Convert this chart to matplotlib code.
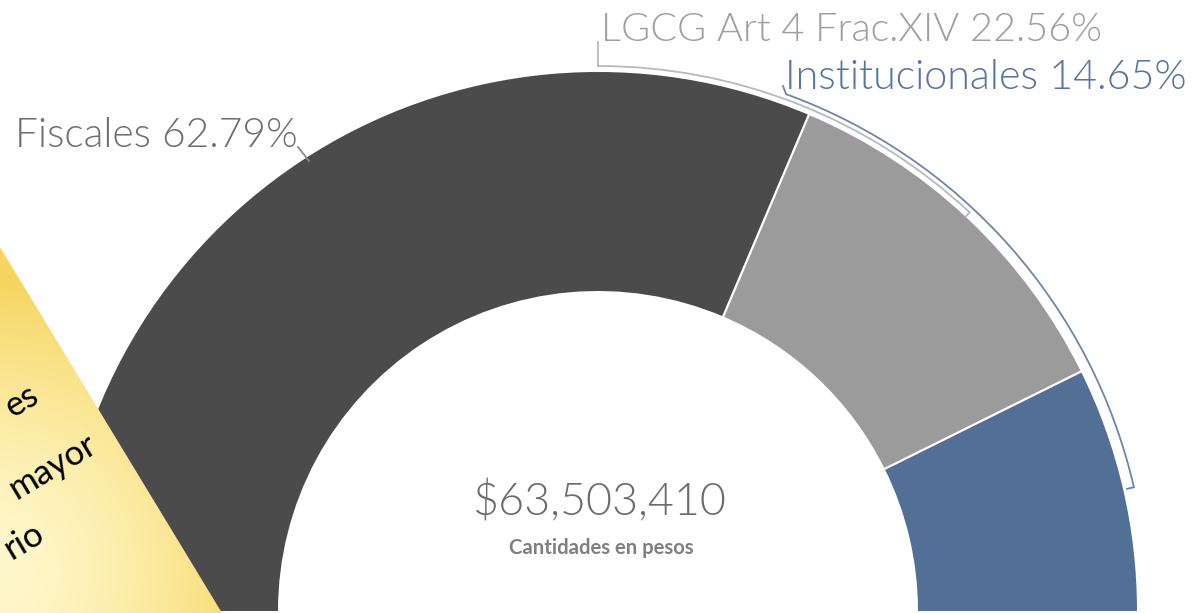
import os
import numpy as np
import matplotlib
matplotlib.use("Agg")
import matplotlib.pyplot as plt
from matplotlib.patches import Wedge, Arc, Polygon
from matplotlib import font_manager as fm

# ---- data ----
categories = ["Fiscales", "LGCG Art 4 Frac.XIV", "Institucionales"]
shares = [62.79, 22.56, 14.65]
seg_colors = ["#4b4b4b", "#9b9b9b", "#526f96"]
label_colors = ["#6f6f6f", "#9e9e9e", "#5574a0"]
total_label = "$63,503,410"
subtitle = "Cantidades en pesos"
note_lines = ["es", "mayor", "rio"]

W, H = 1194, 613
fig = plt.figure(figsize=(W / 100, H / 100), dpi=100)
ax = fig.add_axes([0, 0, 1, 1])
ax.set_xlim(0, W)
ax.set_ylim(0, H)
ax.axis("off")


def Y(yp):
    return H - yp


FONT = ["Lato", "DejaVu Sans"]


def find_light():
    prefs = ["lato-light.ttf", "roboto-light.ttf", "opensans-light.ttf",
             "notosans-light.ttf", "inter-light.ttf"]
    files = {}
    for f in fm.fontManager.ttflist:
        files[os.path.basename(f.fname).lower()] = f.fname
    for p in prefs:
        if p in files:
            return fm.FontProperties(fname=files[p])
    return fm.FontProperties(family=FONT, weight="normal")


LIGHT = find_light()

cx, cy = 598, Y(611)
R, r = 539, 320

# ---- semi-donut ----
start = 180.0
bounds = []
for cat, s, col in zip(categories, shares, seg_colors):
    th1 = start - s / 100.0 * 180.0
    ax.add_patch(Wedge((cx, cy), R, th1, start, width=R - r,
                       facecolor=col, edgecolor="none", zorder=2))
    bounds.append(th1)
    start = th1
for th in bounds[:-1]:
    t = np.deg2rad(th)
    ax.plot([cx + (r - 1) * np.cos(t), cx + (R + 1) * np.cos(t)],
            [cy + (r - 1) * np.sin(t), cy + (R + 1) * np.sin(t)],
            color="white", lw=1.6, zorder=3, solid_capstyle="butt")


def pt(rad, ang):
    a = np.deg2rad(ang)
    return cx + rad * np.cos(a), cy + rad * np.sin(a)


# ---- leader brackets ----
rb1 = 545
ax.add_patch(Arc((cx, cy), 2 * rb1, 2 * rb1, theta1=47, theta2=90,
                 color="#b9b9b9", lw=1.3, zorder=4))
x0, y0 = pt(rb1, 90)
ax.plot([x0, x0], [y0, Y(42)], color="#b9b9b9", lw=1.3, zorder=4)
xa, ya = pt(rb1, 47)
xb, yb = pt(rb1 - 6, 47)
ax.plot([xa, xb], [ya, yb], color="#b9b9b9", lw=1.3, zorder=4)

rb2 = 550
ax.add_patch(Arc((cx, cy), 2 * rb2, 2 * rb2, theta1=13, theta2=70,
                 color="#6a87ad", lw=1.3, zorder=4))
xs, ys = pt(rb2, 70)
ax.plot([xs, 783], [ys, Y(86)], color="#6a87ad", lw=1.3, zorder=4)
xa, ya = pt(rb2, 13)
xb, yb = pt(rb2 - 7, 13)
ax.plot([xa, xb], [ya, yb], color="#6a87ad", lw=1.3, zorder=4)

ax.plot([298, 309], [Y(147), Y(161)], color="#8a8a8a", lw=1.3, zorder=4)

# ---- text helpers ----
fig.canvas.draw()
renderer = fig.canvas.get_renderer()


def fit_text(txt, x, y, target_w, fs0=20, **kw):
    t = ax.text(x, y, txt, fontsize=fs0, **kw)
    bb = t.get_window_extent(renderer)
    t.set_fontsize(fs0 * target_w / bb.width)
    return t


labels = [f"{c} {s:.2f}%" for c, s in zip(categories, shares)]
lab_pos = [(15, 147, 283), (601, 41, 502), (785, 89, 403)]
for lab, (lx, ly, lw_), col in zip(labels, lab_pos, label_colors):
    fit_text(lab, lx, Y(ly), lw_, fontproperties=LIGHT.copy(), color=col,
             ha="left", va="baseline", zorder=5)

fit_text(total_label, 600, Y(515), 255, fontproperties=LIGHT.copy(),
         color="#6c6c6c", ha="center", va="baseline", zorder=5)
fit_text(subtitle, 601, Y(554), 185, family=FONT, weight="bold",
         color="#7f7f7f", ha="center", va="baseline", zorder=5)

# ---- yellow sticky note (rotated) ----
d = np.array([222.0, 366.0])
d /= np.linalg.norm(d)
b = np.array([d[1], -d[0]])
p0 = np.array([0.0, 247.0])
ptop = p0 - 200 * d
pbot = p0 + 700 * d
corners_pix = [ptop, pbot, pbot - 500 * b, ptop - 500 * b]
poly = Polygon([(p[0], Y(p[1])) for p in corners_pix], closed=True,
               facecolor="none", edgecolor="none", zorder=6)
ax.add_patch(poly)

gx = np.linspace(0, 360, 361)
gy = np.linspace(0, 613, 614)
GX, GY = np.meshgrid(gx, gy)
dist = np.hypot(GX - (-10), GY - 570)
tt = np.clip(dist / 290.0, 0, 1) ** 1.5
pale = np.array([255, 248, 205]) / 255.0
sat = np.array([246, 214, 96]) / 255.0
img = pale[None, None, :] * (1 - tt[..., None]) + sat[None, None, :] * tt[..., None]
im = ax.imshow(img, extent=(0, 360, Y(613), Y(0)), origin="upper",
               zorder=6, interpolation="bilinear", aspect="auto")
im.set_clip_path(poly)
ax.set_xlim(0, W)
ax.set_ylim(0, H)

note_pos = [(12, 418), (16, 500), (12, 560)]
for txt, (nx, ny) in zip(note_lines, note_pos):
    ax.text(nx, Y(ny), txt, fontsize=25, family=FONT, color="black",
            rotation=31, rotation_mode="anchor", ha="left", va="baseline",
            zorder=7)

fig.savefig("out.png", dpi=100)
